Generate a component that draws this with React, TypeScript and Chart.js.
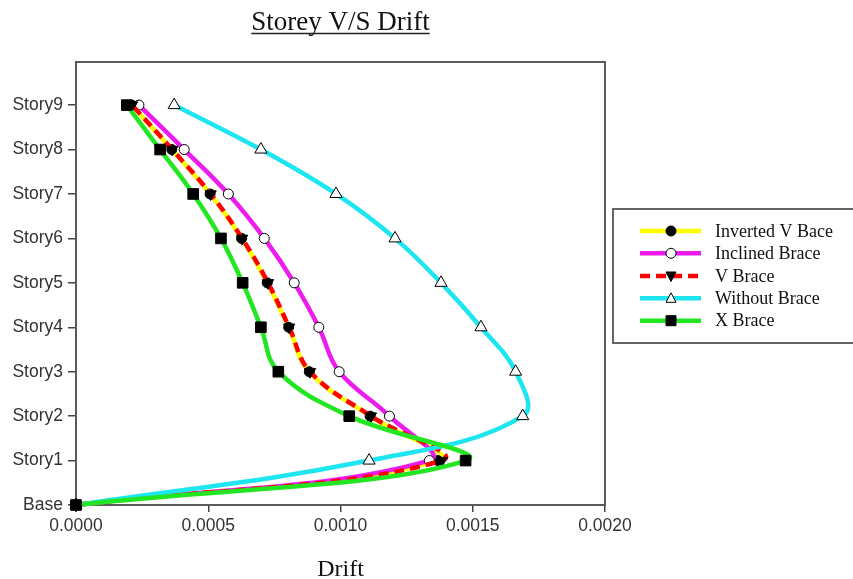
import React, { useEffect, useRef } from "react";
import { Chart, registerables } from "chart.js";

Chart.register(...registerables);

const storyLabels = ["Base", "Story1", "Story2", "Story3", "Story4", "Story5", "Story6", "Story7", "Story8", "Story9"];
const xTicks = [0, 0.0005, 0.001, 0.0015, 0.002];

const invertedV = [0, 0.001368, 0.001112, 0.000882, 0.000804, 0.000723, 0.000626, 0.000507, 0.000362, 0.000211];
const inclined = [0, 0.001336, 0.001185, 0.000995, 0.000918, 0.000825, 0.000712, 0.000576, 0.000409, 0.000238];
const vBrace = [0, 0.001383, 0.001115, 0.000885, 0.000806, 0.000726, 0.000628, 0.000509, 0.000364, 0.000212];
const withoutBrace = [0, 0.001108, 0.001689, 0.001662, 0.001531, 0.00138, 0.001206, 0.000983, 0.000699, 0.000371];
const xBrace = [0, 0.001473, 0.001033, 0.000765, 0.000699, 0.00063, 0.000548, 0.000443, 0.000318, 0.000192];

const seriesNames = ["Inverted V Bace", "Inclined Brace", "V Brace", "Without Brace", "X Brace"];

const toPts = (arr: number[]) => arr.map((v, i) => ({ x: v, y: i }));

const frameColor = "#5a5a5a";

function drawMarker(ctx: CanvasRenderingContext2D, ds: any, x: number, y: number, r: number) {
  ctx.save();
  ctx.fillStyle = ds.pointBackgroundColor;
  ctx.strokeStyle = ds.pointBorderColor;
  ctx.lineWidth = 1;
  ctx.beginPath();
  const style = ds.pointStyle;
  if (style === "circle") {
    ctx.arc(x, y, r, 0, Math.PI * 2);
  } else if (style === "rect") {
    ctx.rect(x - r, y - r, 2 * r, 2 * r);
  } else if (style === "triangle") {
    const dir = ds.pointRotation === 180 ? -1 : 1;
    ctx.moveTo(x, y - dir * r * 1.1);
    ctx.lineTo(x - r, y + dir * r * 0.8);
    ctx.lineTo(x + r, y + dir * r * 0.8);
    ctx.closePath();
  }
  ctx.fill();
  ctx.stroke();
  ctx.restore();
}

const decorPlugin = {
  id: "decor",
  beforeDatasetsDraw(chart: any) {
    const { ctx, chartArea } = chart;
    ctx.save();
    ctx.strokeStyle = frameColor;
    ctx.lineWidth = 2;
    ctx.strokeRect(chartArea.left, chartArea.top, chartArea.right - chartArea.left, chartArea.bottom - chartArea.top);
    ctx.restore();
  },
  afterDraw(chart: any) {
    const { ctx, chartArea } = chart;
    const cx = (chartArea.left + chartArea.right) / 2;
    ctx.save();
    // title
    ctx.fillStyle = "#111";
    ctx.font = "27px 'Liberation Serif'";
    ctx.textAlign = "center";
    ctx.textBaseline = "alphabetic";
    const title = "Storey V/S Drift";
    ctx.fillText(title, cx, 30);
    const w = ctx.measureText(title).width;
    ctx.strokeStyle = "#222";
    ctx.lineWidth = 1.5;
    ctx.beginPath();
    ctx.moveTo(cx - w / 2, 33.5);
    ctx.lineTo(cx + w / 2, 33.5);
    ctx.stroke();
    // axis title
    ctx.font = "24px 'Liberation Serif'";
    ctx.fillText("Drift", cx, 576);
    // legend
    const lx = 613, ly = 209, lw = 260, lh = 134;
    ctx.strokeStyle = "#666";
    ctx.lineWidth = 2;
    ctx.strokeRect(lx, ly, lw, lh);
    const rows = [231, 253.3, 276, 298.3, 320.7];
    const dsList = chart.data.datasets;
    seriesNames.forEach((name, i) => {
      const ds = dsList[i];
      const y = rows[i];
      ctx.save();
      ctx.strokeStyle = ds.borderColor;
      ctx.lineWidth = ds.borderWidth;
      ctx.setLineDash(ds.borderDash || []);
      ctx.beginPath();
      ctx.moveTo(640, y);
      ctx.lineTo(701, y);
      ctx.stroke();
      ctx.restore();
      drawMarker(ctx, ds, 671, y, 5);
      ctx.fillStyle = "#111";
      ctx.font = "18px 'Liberation Serif'";
      ctx.textAlign = "left";
      ctx.textBaseline = "middle";
      ctx.fillText(name, 715, y + 1);
    });
    ctx.restore();
  },
};

export default function App() {
  const ref = useRef<HTMLCanvasElement>(null);
  useEffect(() => {
    if (!ref.current) return;
    const common = { tension: 0.4, fill: false, pointBorderColor: "#000", pointBorderWidth: 1, clip: false as any };
    const chart = new Chart(ref.current, {
      type: "scatter",
      data: {
        datasets: [
          { ...common, label: seriesNames[0], data: toPts(invertedV), showLine: true, borderColor: "#ffff00", borderWidth: 4.5, pointStyle: "circle", pointRadius: 5, pointBackgroundColor: "#000", order: 5 },
          { ...common, label: seriesNames[1], data: toPts(inclined), showLine: true, borderColor: "#ee1bee", borderWidth: 4.5, pointStyle: "circle", pointRadius: 5, pointBackgroundColor: "#fff", order: 4 },
          { ...common, label: seriesNames[2], data: toPts(vBrace), showLine: true, borderColor: "#ff0000", borderWidth: 4.5, borderDash: [10, 6], pointStyle: "triangle", pointRotation: 180, pointRadius: 6.5, pointBackgroundColor: "#000", order: 3 },
          { ...common, label: seriesNames[3], data: toPts(withoutBrace), showLine: true, borderColor: "#1de6f0", borderWidth: 4.5, pointStyle: "triangle", pointRadius: 7, pointBackgroundColor: "#fff", order: 2 },
          { ...common, label: seriesNames[4], data: toPts(xBrace), showLine: true, borderColor: "#22e622", borderWidth: 4.5, pointStyle: "rect", pointRadius: 7.5, pointBackgroundColor: "#000", order: 1 },
        ] as any,
      },
      options: {
        animation: false,
        responsive: false,
        devicePixelRatio: 1,
        layout: { padding: { top: 62, right: 248, left: 0, bottom: 0 } },
        plugins: { legend: { display: false }, tooltip: { enabled: false }, title: { display: false } },
        scales: {
          x: {
            type: "linear",
            min: 0,
            max: 0.002,
            afterFit: (s: any) => { s.height = 74; },
            afterBuildTicks: (s: any) => { s.ticks = xTicks.map((v) => ({ value: v })); },
            ticks: {
              callback: (v: any) => Number(v).toFixed(4),
              font: { family: "'Liberation Sans'", size: 17.5 },
              color: "#333",
              padding: 4,
              maxRotation: 0,
            },
            grid: { drawOnChartArea: false, drawTicks: true, tickLength: 7, color: "#444", lineWidth: 1.5 },
            border: { display: false },
          },
          y: {
            type: "linear",
            min: 0,
            max: 9.97,
            afterFit: (s: any) => { s.width = 76; },
            afterBuildTicks: (s: any) => { s.ticks = storyLabels.map((_, i) => ({ value: i })); },
            ticks: {
              callback: (v: any) => storyLabels[Math.round(Number(v))] ?? "",
              font: { family: "'Liberation Sans'", size: 17.5 },
              color: "#333",
              padding: 5,
            },
            grid: { drawOnChartArea: false, drawTicks: true, tickLength: 8, color: "#444", lineWidth: 1.5 },
            border: { display: false },
          },
        },
      },
      plugins: [decorPlugin],
    } as any);
    return () => chart.destroy();
  }, []);
  return (
    <div style={{ position: "absolute", left: 0, top: 0, width: 853, height: 579, background: "#fff" }}>
      <canvas ref={ref} width={853} height={579} style={{ width: 853, height: 579, display: "block" }} />
    </div>
  );
}
